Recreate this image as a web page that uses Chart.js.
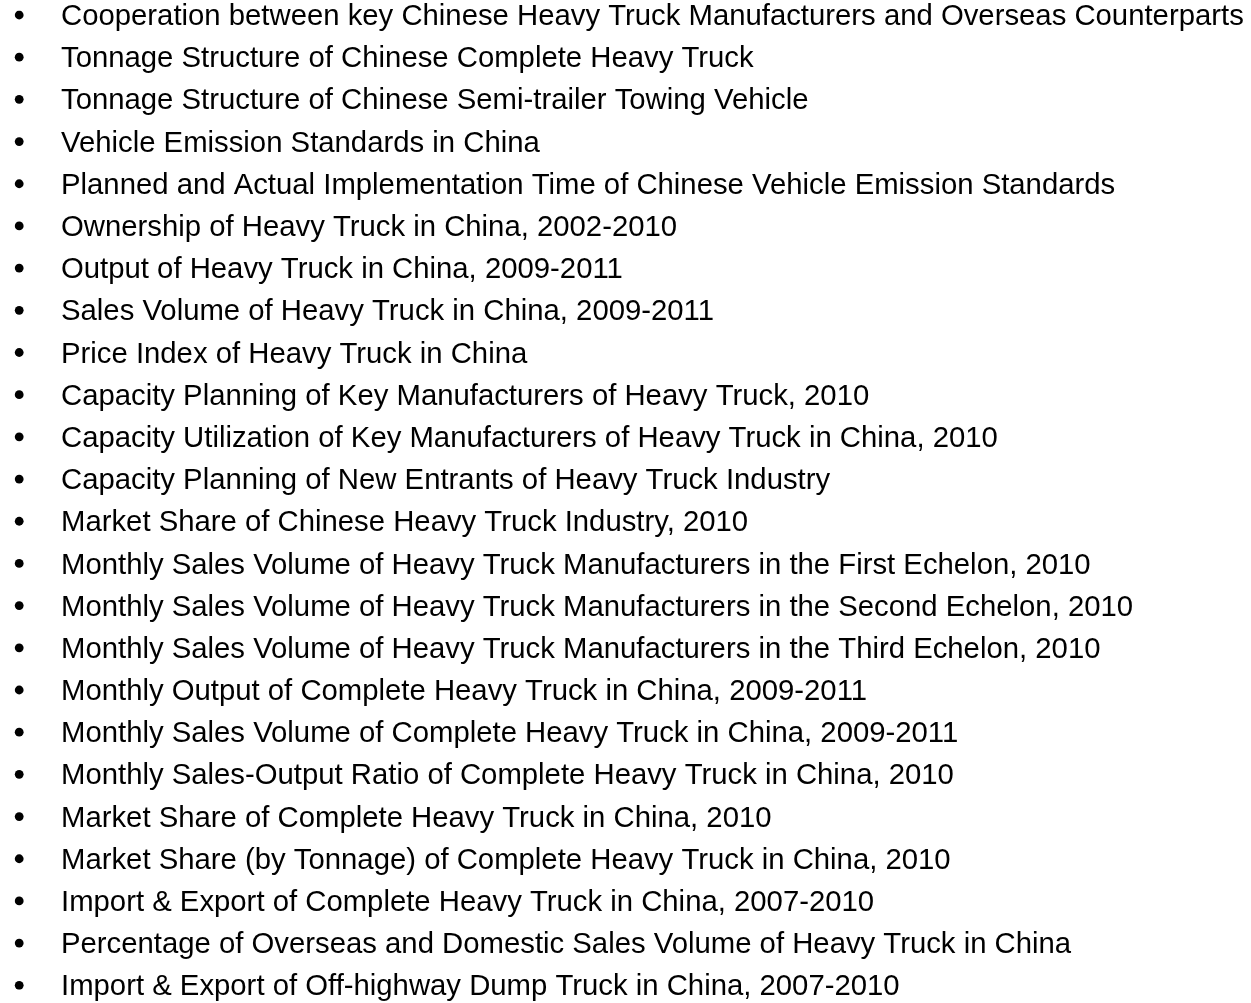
<!DOCTYPE html>
<html>
<head>
<meta charset="utf-8">
<script src="https://cdn.jsdelivr.net/npm/chart.js@4/dist/chart.umd.min.js"></script>
<style>
  html, body { margin: 0; padding: 0; background: #ffffff; }
  #wrap { width: 1251px; height: 1003px; position: relative; }
</style>
</head>
<body>
<div id="wrap"><canvas id="c" width="1251" height="1003"></canvas></div>
<script>
const items = [
  "Cooperation between key Chinese Heavy Truck Manufacturers and Overseas Counterparts",
  "Tonnage Structure of Chinese Complete Heavy Truck",
  "Tonnage Structure of Chinese Semi-trailer Towing Vehicle",
  "Vehicle Emission Standards in China",
  "Planned and Actual Implementation Time of Chinese Vehicle Emission Standards",
  "Ownership of Heavy Truck in China, 2002-2010",
  "Output of Heavy Truck in China, 2009-2011",
  "Sales Volume of Heavy Truck in China, 2009-2011",
  "Price Index of Heavy Truck in China",
  "Capacity Planning of Key Manufacturers of Heavy Truck, 2010",
  "Capacity Utilization of Key Manufacturers of Heavy Truck in China, 2010",
  "Capacity Planning of New Entrants of Heavy Truck Industry",
  "Market Share of Chinese Heavy Truck Industry, 2010",
  "Monthly Sales Volume of Heavy Truck Manufacturers in the First Echelon, 2010",
  "Monthly Sales Volume of Heavy Truck Manufacturers in the Second Echelon, 2010",
  "Monthly Sales Volume of Heavy Truck Manufacturers in the Third Echelon, 2010",
  "Monthly Output of Complete Heavy Truck in China, 2009-2011",
  "Monthly Sales Volume of Complete Heavy Truck in China, 2009-2011",
  "Monthly Sales-Output Ratio of Complete Heavy Truck in China, 2010",
  "Market Share of Complete Heavy Truck in China, 2010",
  "Market Share (by Tonnage) of Complete Heavy Truck in China, 2010",
  "Import & Export of Complete Heavy Truck in China, 2007-2010",
  "Percentage of Overseas and Domestic Sales Volume of Heavy Truck in China",
  "Import & Export of Off-highway Dump Truck in China, 2007-2010"
];
const bulletX = 0;

const CANVAS_W = 1251;
const BULLET_AREA = 34;

new Chart(document.getElementById('c'), {
  type: 'line',
  data: {
    labels: items,
    datasets: [{
      data: items.map(it => ({ x: bulletX, y: it })),
      showLine: false,
      pointRadius: 4.4,
      pointHoverRadius: 4.4,
      pointBackgroundColor: '#000000',
      pointBorderColor: '#000000',
      pointBorderWidth: 0
    }]
  },
  options: {
    responsive: false,
    animation: false,
    events: [],
    layout: { padding: { top: 15, bottom: 17.7, left: 0, right: 0 } },
    plugins: { legend: { display: false }, tooltip: { enabled: false }, title: { display: false } },
    scales: {
      x: { type: 'linear', min: -1, max: 1, display: false },
      y: {
        type: 'category',
        position: 'right',
        offset: false,
        grid: { display: false, drawTicks: false },
        border: { display: false },
        ticks: {
          autoSkip: false,
          padding: 27,
          labelOffset: 2,
          color: '#000000',
          font: { family: "'Liberation Sans', Arial, sans-serif", size: 29.3, lineHeight: 1 }
        },
        afterFit(scale) {
          scale.width = CANVAS_W - BULLET_AREA;
          scale.paddingTop = 0;
          scale.paddingBottom = 0;
        }
      }
    }
  }
});
</script>
</body>
</html>
